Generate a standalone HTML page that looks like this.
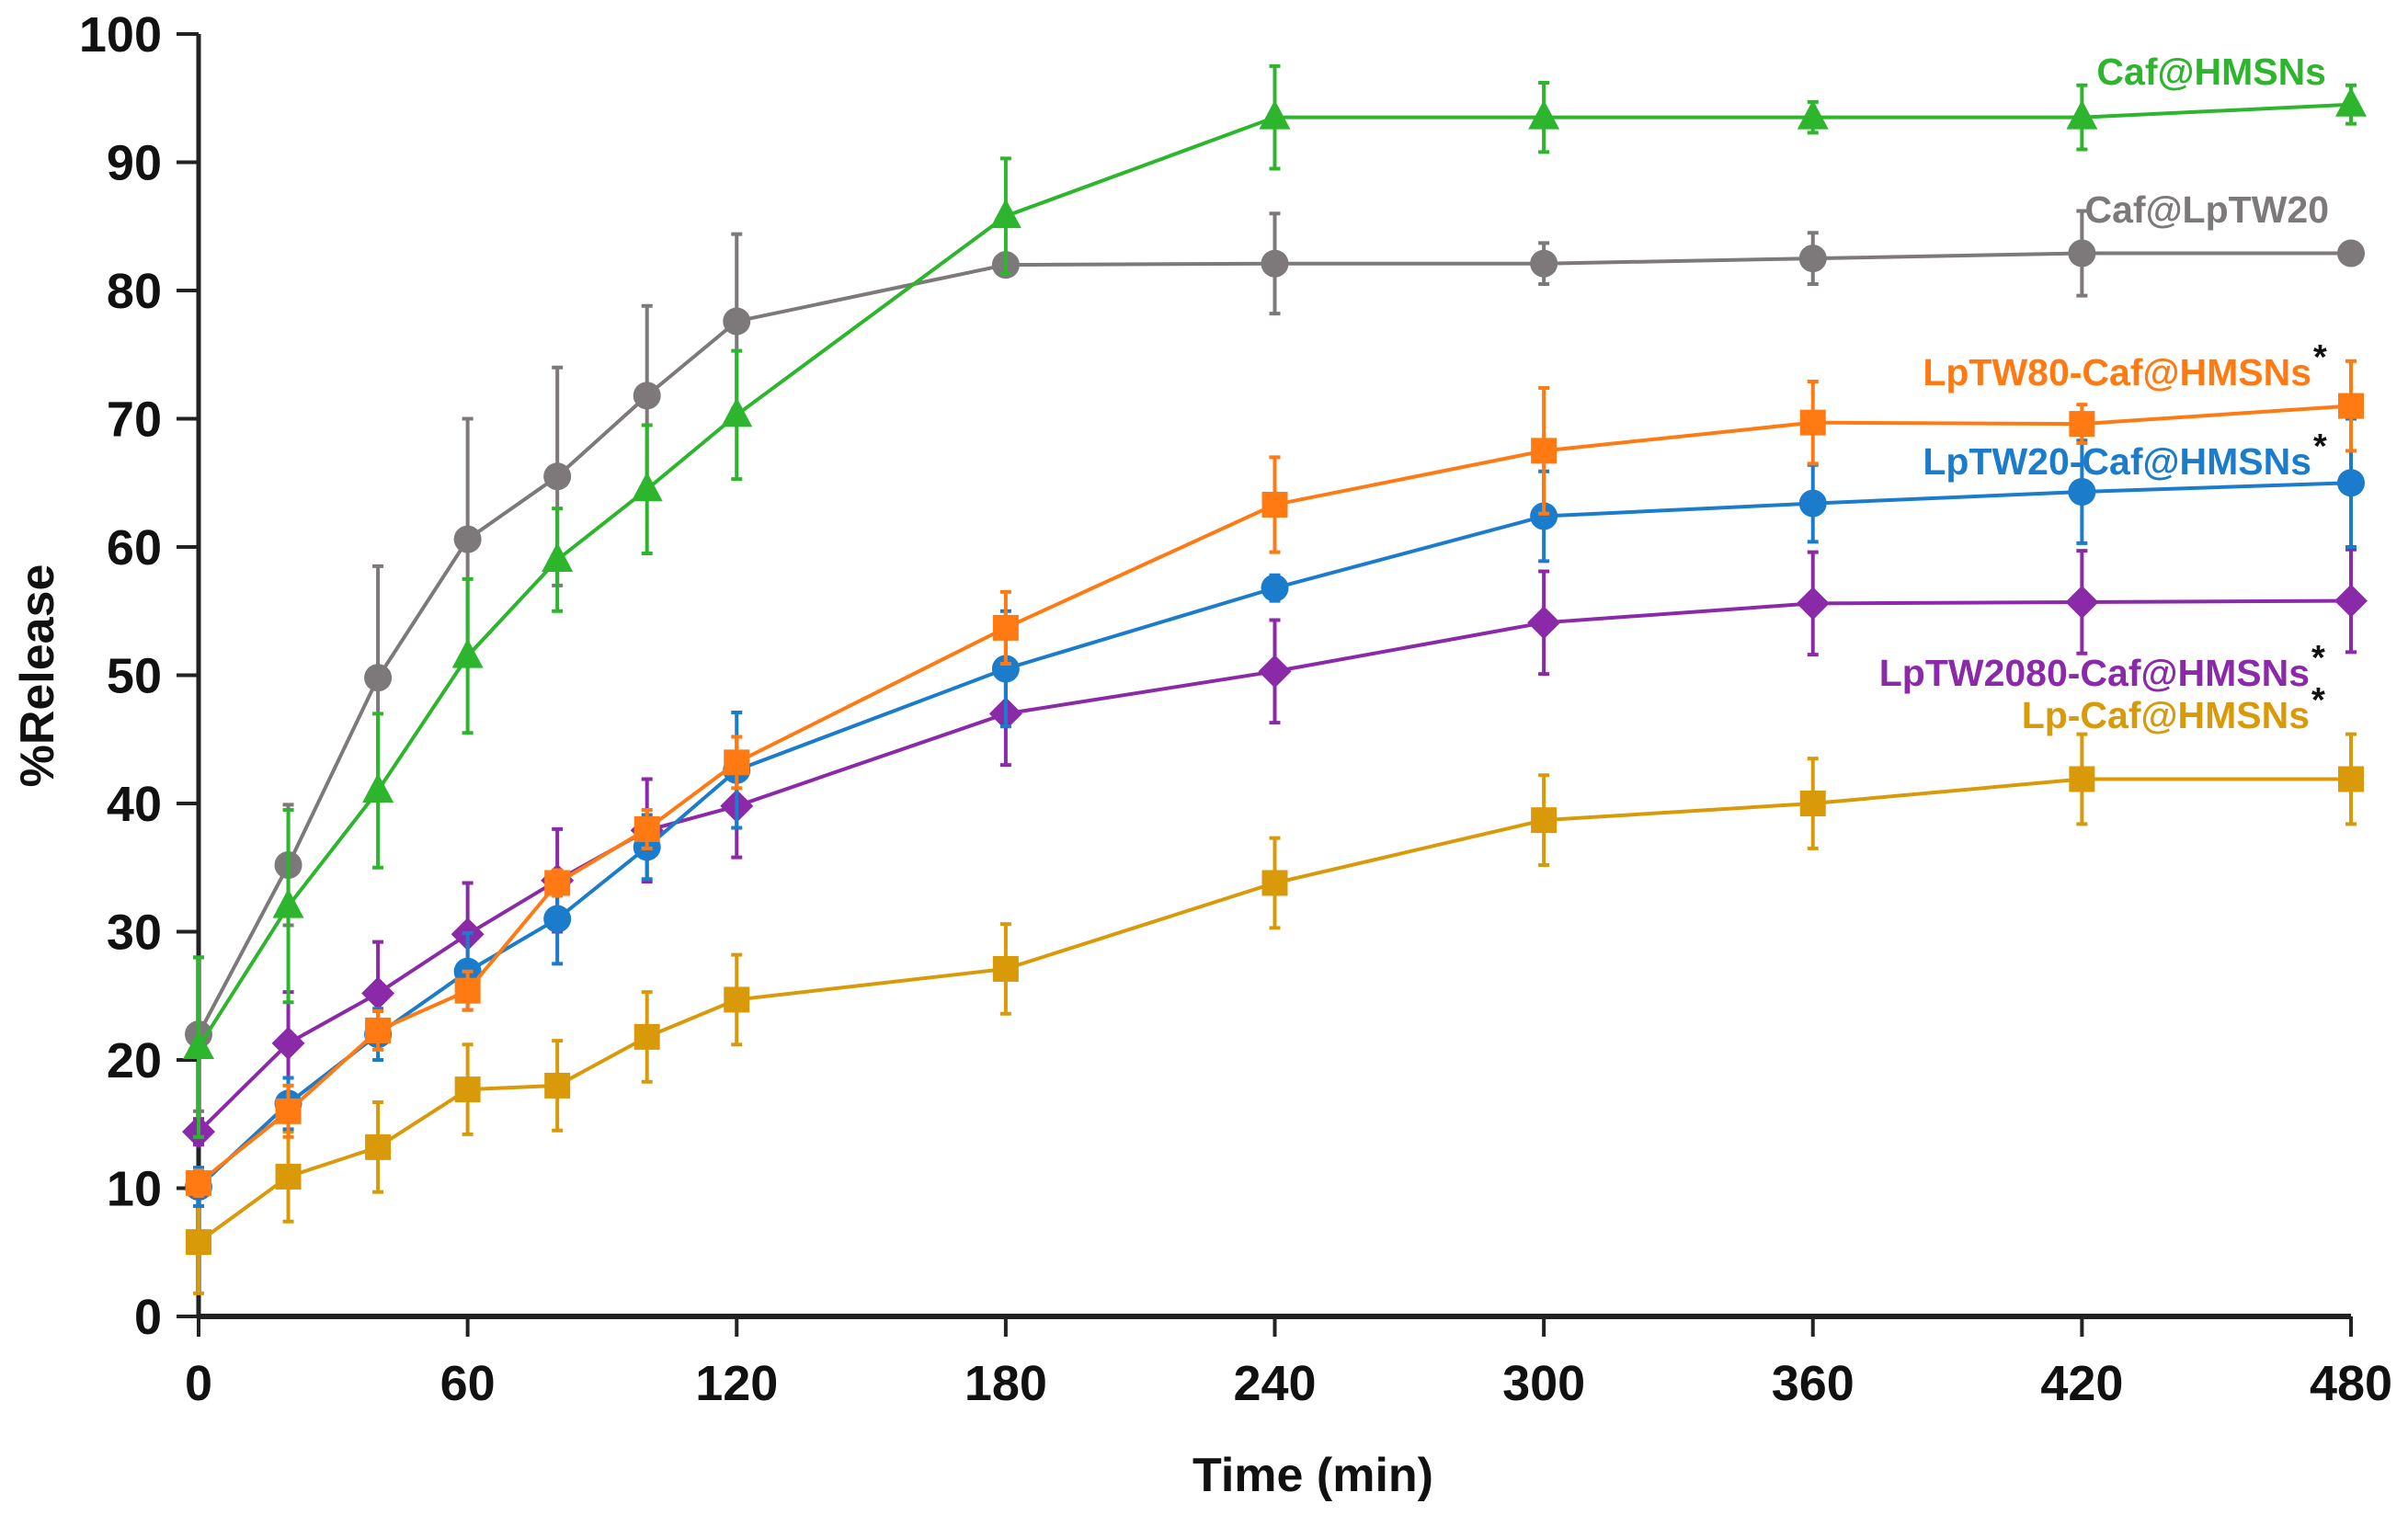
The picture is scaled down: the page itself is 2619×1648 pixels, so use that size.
<!DOCTYPE html>
<html><head><meta charset="utf-8"><style>
html,body{margin:0;padding:0;background:#fff;}
svg{display:block;font-family:"Liberation Sans",Arial,sans-serif;font-weight:bold;}
</style></head><body>
<svg id="chart" width="2619" height="1648" viewBox="0 0 2619 1648" xmlns="http://www.w3.org/2000/svg">
<g id="axes"></g>
<g id="series"></g>
<g id="labels"></g>
<text x="1428" y="1622" font-size="52" text-anchor="middle" fill="#111">Time (min)</text>
<text x="0" y="0" font-size="52" text-anchor="middle" fill="#111" transform="translate(58,735) rotate(-90)">%Release</text>
</svg>
<script>
const times = [0,20,40,60,80,100,120,180,240,300,360,420,480];
const xTicks = [0,60,120,180,240,300,360,420,480];
const yTicks = [0,10,20,30,40,50,60,70,80,90,100];
const seriesNames = ["Caf@LpTW20","Caf@HMSNs","LpTW80-Caf@HMSNs","LpTW20-Caf@HMSNs","LpTW2080-Caf@HMSNs","Lp-Caf@HMSNs"];
const grayVals = [22,35.2,49.8,60.6,65.5,71.8,77.6,82,82.1,82.1,82.5,82.9,82.9];
const grayErr = [6,4.7,8.7,9.4,8.5,7,6.8,0.8,3.9,1.6,2,3.3,0.7];
const greenVals = [21,32,41,51.5,59,64.5,70.3,85.8,93.5,93.5,93.5,93.5,94.5];
const greenErr = [7,7.5,6,6,4,5,5,4.5,4,2.7,1.2,2.5,1.5];
const orangeVals = [10.4,16,22.3,25.4,33.8,38,43.2,53.7,63.3,67.5,69.7,69.6,71];
const orangeErr = [1,2,1.5,1.5,1,1.5,2,2.8,3.7,4.9,3.2,1.5,3.5];
const blueVals = [10.1,16.6,22,26.9,31,36.6,42.6,50.5,56.8,62.4,63.4,64.3,65];
const blueErr = [1.5,2,2,3,3.5,2.5,4.5,4.5,1,3.5,3,4,5];
const purpleVals = [14.4,21.3,25.2,29.8,34,37.9,39.8,47,50.3,54.1,55.6,55.7,55.8];
const purpleErr = [1,4,4,4,4,4,4,4,4,4,4,4,4];
const goldVals = [5.8,10.9,13.2,17.7,18,21.8,24.7,27.1,33.8,38.7,40,41.9,41.9];
const goldErr = [4,3.5,3.5,3.5,3.5,3.5,3.5,3.5,3.5,3.5,3.5,3.5,3.5];

const NS="http://www.w3.org/2000/svg";
const X0=216,X1=2557,Y0=1432,Y1=37;
function xs(t){return X0+(X1-X0)*t/480;}
function ys(v){return Y0-(Y0-Y1)*v/100;}
function mk(tag,attrs,parent){const e=document.createElementNS(NS,tag);for(const k in attrs)e.setAttribute(k,attrs[k]);parent.appendChild(e);return e;}
const axes=document.getElementById('axes');
let a=mk('line',{x1:X0,y1:Y0,x2:X1,y2:Y0,stroke:'#222','stroke-width':6},axes);


a=mk('line',{x1:X0,y1:Y0,x2:X0,y2:Y1,stroke:'#222','stroke-width':5},axes);


xTicks.forEach(t=>{
  let l=mk('line',{x1:xs(t),y1:Y0,x2:xs(t),y2:Y0+22,stroke:'#222','stroke-width':4},axes);
  
  
  let tx=mk('text',{x:xs(t),y:1523,'font-size':54,'text-anchor':'middle',fill:'#111'},axes);
  tx.textContent=t;
  
  
});
yTicks.forEach(v=>{
  let l=mk('line',{x1:X0-24,y1:ys(v),x2:X0,y2:ys(v),stroke:'#222','stroke-width':4},axes);
  
  
  let tx=mk('text',{x:176,y:ys(v)+19,'font-size':54,'text-anchor':'end',fill:'#111'},axes);
  tx.textContent=v;
  
  
});
const ser=document.getElementById('series');
function drawSeries(name,vals,errs,color,shape){
  const g=mk('g',{},ser);
  
  
  const pts=times.map((t,i)=>xs(t)+','+ys(vals[i])).join(' ');
  let pl=mk('polyline',{points:pts,fill:'none',stroke:color,'stroke-width':4},g);
  
  
  times.forEach((t,i)=>{
    const x=xs(t),y=ys(vals[i]),yt=ys(vals[i]+errs[i]),yb=ys(vals[i]-errs[i]);
    let e=mk('path',{d:`M${x},${yt}V${yb}M${x-6},${yt}H${x+6}M${x-6},${yb}H${x+6}`,stroke:color,'stroke-width':4,fill:'none'},g);
    
    
    let m;
    if(shape==='circle') m=mk('circle',{cx:x,cy:y,r:15,fill:color},g);
    else if(shape==='square') m=mk('rect',{x:x-14,y:y-14,width:28,height:28,fill:color},g);
    else if(shape==='diamond') m=mk('path',{d:`M${x},${y-18}L${x+18},${y}L${x},${y+18}L${x-18},${y}Z`,fill:color},g);
    else m=mk('path',{d:`M${x},${y-19}L${x+17},${y+13}L${x-17},${y+13}Z`,fill:color},g);
    
    
  });
}
drawSeries('gold',goldVals,goldErr,'#d99a0a','square');
drawSeries('purple',purpleVals,purpleErr,'#8b2aa8','diamond');
drawSeries('blue',blueVals,blueErr,'#1b7ccc','circle');
drawSeries('orange',orangeVals,orangeErr,'#ff7a12','square');
drawSeries('gray',grayVals,grayErr,'#7d7879','circle');
drawSeries('green',greenVals,greenErr,'#2db52d','triangle');
const lab=document.getElementById('labels');
const labelInfo=[
 [seriesNames[1],'#2db52d',2530,92,false],
 [seriesNames[0],'#7d7879',2533,242,false],
 [seriesNames[2],'#ff7a12',2514,419,true],
 [seriesNames[3],'#1b7ccc',2514,516,true],
 [seriesNames[4],'#8b2aa8',2512,746,true],
 [seriesNames[5],'#d99a0a',2512,792,true]];
labelInfo.forEach(d=>{
  let t=mk('text',{x:d[2],y:d[3],'font-size':41,'text-anchor':'end',fill:d[1]},lab);
  t.textContent=d[0];
  
  
  if(d[4]){
    let s=mk('text',{x:d[2]+2,y:d[3]-18,'font-size':38,fill:'#111'},lab);
    s.textContent='*';
    
    
  }
});
</script>
</body></html>
